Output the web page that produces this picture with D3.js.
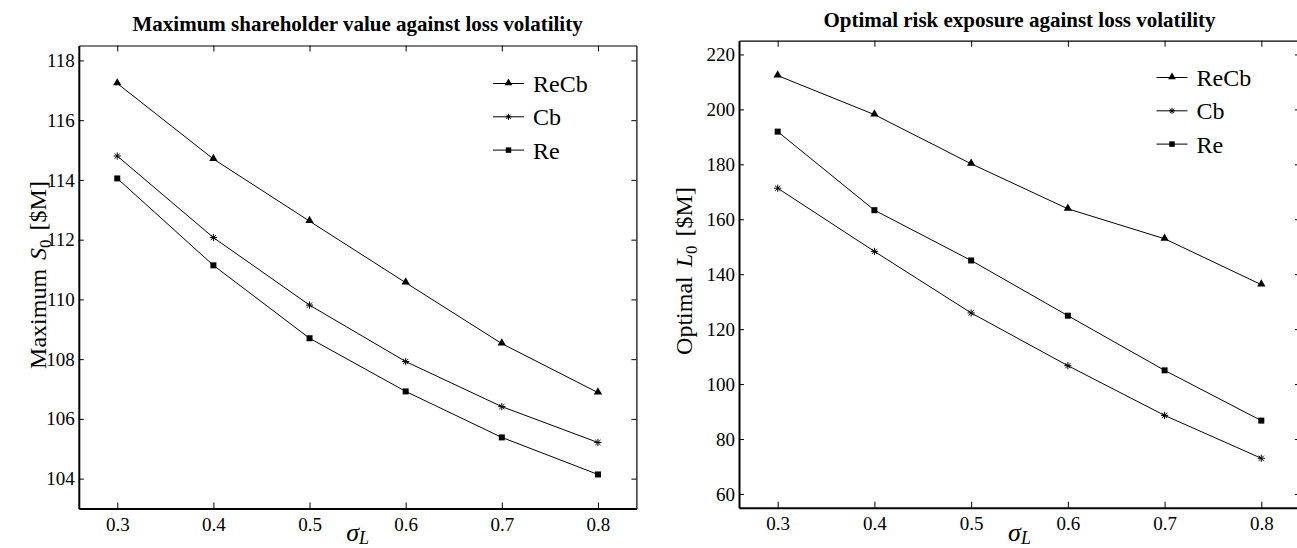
<!DOCTYPE html>
<html>
<head>
<meta charset="utf-8">
<script src="https://cdn.jsdelivr.net/npm/d3@7"></script>
<style>
  body { margin: 0; background: #fff; }
  svg { display: block; }
  svg text { font-family: "Liberation Serif", serif !important; fill: #000; }
</style>
</head>
<body>
<script>
// sigma_L values on the x axis
var sigma = [0.3, 0.4, 0.5, 0.6, 0.7, 0.8];
var xTicks = [0.3, 0.4, 0.5, 0.6, 0.7, 0.8];

// left panel: maximum S0 [$M]
var shareReCb = [117.23, 114.70, 112.62, 110.56, 108.52, 106.88];
var shareCb   = [114.80, 112.07, 109.81, 107.92, 106.41, 105.21];
var shareRe   = [114.05, 111.14, 108.70, 106.92, 105.38, 104.14];
var shareTicks = [104, 106, 108, 110, 112, 114, 116, 118];

// right panel: optimal L0 [$M]
var riskReCb = [212.3, 198.1, 180.2, 163.8, 152.9, 136.2];
var riskCb   = [171.3, 148.3, 125.9, 106.7, 88.6, 73.0];
var riskRe   = [191.9, 163.3, 145.0, 124.9, 105.0, 86.7];
var riskTicks = [60, 80, 100, 120, 140, 160, 180, 200, 220];

var seriesNames = ["ReCb", "Cb", "Re"];

var svg = d3.select("body").append("svg")
  .attr("width", 1297)
  .attr("height", 548)
  .attr("font-family", "Liberation Serif");

function marker(g, kind, x, y, small) {
  if (kind === "ReCb") {
    g.append("path")
      .attr("d", d3.symbol().type(d3.symbolTriangle).size(small ? 26 : 30)())
      .attr("transform", "translate(" + x + "," + (y - 0.5) + ")")
      .attr("fill", "#000");
  } else if (kind === "Re") {
    g.append("path")
      .attr("d", d3.symbol().type(d3.symbolSquare).size(small ? 30 : 36)())
      .attr("transform", "translate(" + x + "," + y + ")")
      .attr("fill", "#000");
  } else {
    // asterisk = plus + cross
    var r = small ? 3 : 3.6, q = r * 0.72;
    g.append("path")
      .attr("d", "M" + (-r) + ",0L" + r + ",0M0," + (-r) + "L0," + r +
                 "M" + (-q) + "," + (-q) + "L" + q + "," + q +
                 "M" + (-q) + "," + q + "L" + q + "," + (-q))
      .attr("transform", "translate(" + x + "," + y + ")")
      .attr("stroke", "#000")
      .attr("stroke-width", 1)
      .attr("fill", "none");
  }
}

function drawPanel(p) {
  var g = svg.append("g");
  var x = d3.scaleLinear().domain([0.26, 0.84]).range([p.left, p.right]);
  var y = d3.scaleLinear().domain(p.yDomain).range([p.bottom, p.top]);

  // axes, ticks pointing inward on all four sides
  var bottomAxis = g.append("g").attr("transform", "translate(0," + p.bottom + ")")
    .call(d3.axisBottom(x).tickValues(xTicks).tickSizeInner(-6).tickSizeOuter(0)
      .tickPadding(9).tickFormat(d3.format(".1f")));
  var leftAxis = g.append("g").attr("transform", "translate(" + p.left + ",0)")
    .call(d3.axisLeft(y).tickValues(p.yTicks).tickSizeInner(-5).tickSizeOuter(0)
      .tickPadding(4).tickFormat(d3.format("d")));
  var topAxis = g.append("g").attr("transform", "translate(0," + p.top + ")")
    .call(d3.axisTop(x).tickValues(xTicks).tickSizeInner(-6).tickSizeOuter(0).tickFormat(""));
  var rightAxis = g.append("g").attr("transform", "translate(" + p.right + ",0)")
    .call(d3.axisRight(y).tickValues(p.yTicks).tickSizeInner(-5).tickSizeOuter(0).tickFormat(""));

  [bottomAxis, leftAxis, topAxis, rightAxis].forEach(function(a) {
    a.attr("font-family", "Liberation Serif").attr("font-size", 19);
  });
  [bottomAxis, leftAxis].forEach(function(a) {
    a.select(".domain").attr("stroke", "#000").attr("stroke-width", 2);
  });
  [topAxis, rightAxis].forEach(function(a) {
    a.select(".domain").attr("stroke", "#000").attr("stroke-width", 1.2);
  });
  g.selectAll(".tick line").attr("stroke", "#000").attr("stroke-width", 1);

  // series
  var line = d3.line()
    .x(function(d) { return x(d[0]); })
    .y(function(d) { return y(d[1]); });

  p.series.forEach(function(s) {
    var pts = sigma.map(function(v, i) { return [v, s.values[i]]; });
    g.append("path").datum(pts)
      .attr("d", line)
      .attr("fill", "none")
      .attr("stroke", "#000")
      .attr("stroke-width", 1);
    pts.forEach(function(d) { marker(g, s.name, x(d[0]), y(d[1]), false); });
  });

  // legend
  seriesNames.forEach(function(name, i) {
    var ly = p.legendY + i * 33.3;
    g.append("line")
      .attr("x1", p.legendX).attr("x2", p.legendX + 31)
      .attr("y1", ly).attr("y2", ly)
      .attr("stroke", "#000").attr("stroke-width", 1);
    marker(g, name, p.legendX + 15.5, ly, true);
    g.append("text")
      .attr("x", p.legendX + 40).attr("y", ly + 8.5)
      .attr("font-size", 24)
      .text(name);
  });

  // title
  g.append("text")
    .attr("x", (p.left + p.right) / 2).attr("y", p.titleY)
    .attr("text-anchor", "middle")
    .attr("font-size", 21).attr("font-weight", "bold")
    .text(p.title);

  // y label
  var yl = g.append("text")
    .attr("transform", "translate(" + p.yLabelX + "," + p.yLabelY + ") rotate(-90)")
    .attr("text-anchor", "middle")
    .attr("font-size", 24);
  yl.append("tspan").text(p.yWord);
  yl.append("tspan").attr("dx", 9).attr("font-style", "italic").text(p.ySym);
  yl.append("tspan").attr("dy", 5).attr("font-size", 17).text("0");
  yl.append("tspan").attr("dy", -5).attr("dx", 9).text("[$M]");

  // x label
  var xl = g.append("text")
    .attr("x", (p.left + p.right) / 2).attr("y", 541)
    .attr("text-anchor", "middle")
    .attr("font-size", 26).attr("font-style", "italic");
  xl.append("tspan").text("σ");
  xl.append("tspan").attr("dy", 3).attr("font-size", 18).text("L");
}

drawPanel({
  left: 78.8, right: 636.4, top: 45.5, bottom: 508.5,
  yDomain: [103, 118.5], yTicks: shareTicks,
  series: [
    { name: "ReCb", values: shareReCb },
    { name: "Cb", values: shareCb },
    { name: "Re", values: shareRe }
  ],
  legendX: 493, legendY: 83.5,
  title: "Maximum shareholder value against loss volatility", titleY: 31,
  yWord: "Maximum", ySym: "S", yLabelX: 46, yLabelY: 275
});

drawPanel({
  left: 739, right: 1300, top: 40.7, bottom: 507.7,
  yDomain: [55, 225], yTicks: riskTicks,
  series: [
    { name: "ReCb", values: riskReCb },
    { name: "Cb", values: riskCb },
    { name: "Re", values: riskRe }
  ],
  legendX: 1156.5, legendY: 77.5,
  title: "Optimal risk exposure against loss volatility", titleY: 27,
  yWord: "Optimal", ySym: "L", yLabelX: 692, yLabelY: 271
});
</script>
</body>
</html>
